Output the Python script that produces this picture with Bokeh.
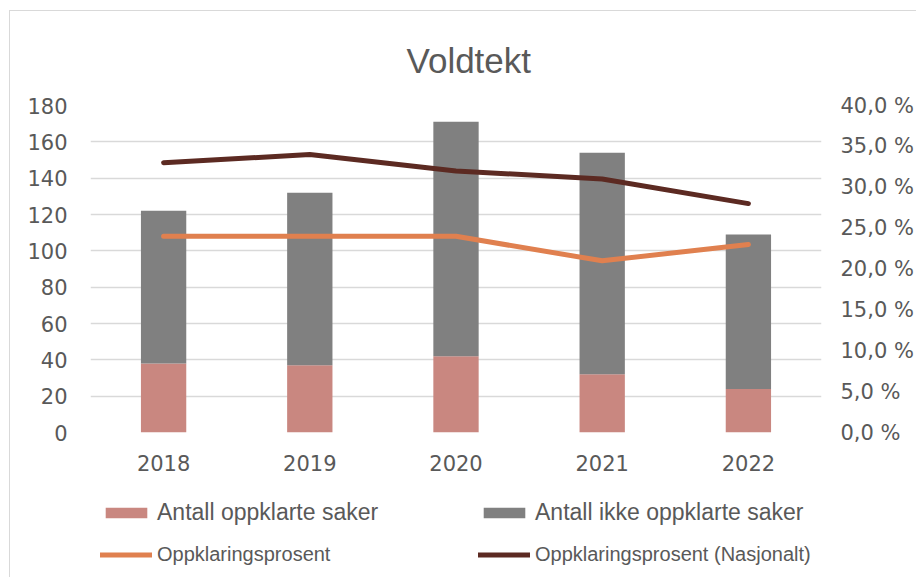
from bokeh.plotting import figure
from bokeh.layouts import column
from bokeh.models import (FactorRange, Range1d, LinearAxis, FixedTicker, Legend, LegendItem)
from bokeh.embed import file_html
from bokeh.resources import INLINE

years = ["2018", "2019", "2020", "2021", "2022"]
oppklarte = [38, 37, 42, 32, 24]
ikke_oppklarte = [84, 95, 129, 122, 85]
prosent = [24, 24, 24, 21, 23]
prosent_nasjonalt = [33, 34, 32, 31, 28]
left_ticks = [0, 20, 40, 60, 80, 100, 120, 140, 160, 180]
right_ticks = [0, 5, 10, 15, 20, 25, 30, 35, 40]
right_labels = ["0,0 %", "5,0 %", "10,0 %", "15,0 %", "20,0 %", "25,0 %", "30,0 %", "35,0 %", "40,0 %"]
series_names = ["Antall oppklarte saker", "Antall ikke oppklarte saker",
                "Oppklaringsprosent", "Oppklaringsprosent (Nasjonalt)"]
colors = ["#C98780", "#808080", "#E0804F", "#5C2A22"]

TXT = "#595959"
FONT = "Liberation Sans"
TICKFONT = "DejaVu Sans"

# ---------------- main chart ----------------
p = figure(x_range=FactorRange(*years), y_range=Range1d(0, 180),
           frame_width=731, frame_height=327, output_backend="svg", toolbar_location=None,
           min_border_left=80, min_border_right=90, min_border_top=94, min_border_bottom=50)
p.extra_y_ranges = {"pct": Range1d(0, 40)}
p.outline_line_color = None
p.background_fill_color = "white"
p.border_fill_color = "white"

p.title.text = "Voldtekt"
p.title.align = "left"
p.title.offset = 316
p.title.vertical_align = "bottom"
p.title.standoff = 52
p.title.text_font = FONT
p.title.text_font_size = "35px"
p.title.text_font_style = "normal"
p.title.text_color = TXT

src = dict(years=years, oppklarte=oppklarte, ikke=ikke_oppklarte)
bars = p.vbar_stack(["oppklarte", "ikke"], x="years", width=0.31, source=src,
                    color=colors[:2], line_color=None)
p.line(years, prosent, y_range_name="pct", line_color=colors[2], line_width=5, line_cap="round")
p.line(years, prosent_nasjonalt, y_range_name="pct", line_color=colors[3], line_width=5, line_cap="round")

p.xgrid.grid_line_color = None
p.ygrid.grid_line_color = "#D9D9D9"
p.ygrid.grid_line_width = 1.5
p.yaxis.ticker = FixedTicker(ticks=left_ticks)

right = LinearAxis(y_range_name="pct", ticker=FixedTicker(ticks=right_ticks))
right.major_label_overrides = {t: s for t, s in zip(right_ticks, right_labels)}
p.add_layout(right, "right")

for ax, so in [(p.xaxis[0], 16), (p.yaxis[0], 17), (right, 13)]:
    ax.axis_line_color = None
    ax.major_tick_line_color = None
    ax.minor_tick_line_color = None
    ax.major_label_text_font = TICKFONT
    ax.major_label_text_font_size = "21px"
    ax.major_label_text_color = TXT
    ax.major_label_standoff = so

# ---------------- legend strip ----------------
lf = figure(width=901, height=95, x_range=Range1d(0, 1), y_range=Range1d(0, 1),
            output_backend="svg", toolbar_location=None,
            min_border_left=0, min_border_right=0, min_border_top=0, min_border_bottom=0)
lf.axis.visible = False
lf.grid.visible = False
lf.outline_line_color = None
lf.border_fill_color = "white"

# legend proxies (kept outside the visible range)
r_a = lf.vbar(x=[-5], top=[-5], width=0.1, color=colors[0], line_color=None)
r_b = lf.vbar(x=[-5], top=[-5], width=0.1, color=colors[1], line_color=None)
r_c = lf.line(x=[-5, -4], y=[-5, -5], line_color=colors[2], line_width=5, line_cap="round")
r_d = lf.line(x=[-5, -4], y=[-5, -5], line_color=colors[3], line_width=5, line_cap="round")


def make_legend(items, loc, size):
    lg = Legend(items=items, orientation="horizontal", location=loc)
    lg.border_line_color = None
    lg.background_fill_alpha = 0
    lg.label_text_font = FONT
    lg.label_text_font_size = size
    lg.label_text_color = TXT
    lg.glyph_width = 52
    lg.glyph_height = 13
    lg.label_standoff = 5
    lg.label_width = 311
    lg.label_height = 20
    lg.spacing = 10
    lg.padding = 0
    lg.margin = 0
    return lg


leg1 = make_legend([LegendItem(label=series_names[0], renderers=[r_a]),
                    LegendItem(label=series_names[1], renderers=[r_b])], (10, 51), "23px")
leg2 = make_legend([LegendItem(label=series_names[2], renderers=[r_c]),
                    LegendItem(label=series_names[3], renderers=[r_d])], (10, 11), "20px")
lf.add_layout(leg1, "center")
lf.add_layout(leg2, "center")

layout = column(p, lf, spacing=0)
layout.styles = {"margin-left": "9px", "margin-top": "10px",
                 "border-left": "1px solid #D9D9D9", "border-top": "1px solid #D9D9D9"}

open("out.html", "w").write(file_html(layout, INLINE))
